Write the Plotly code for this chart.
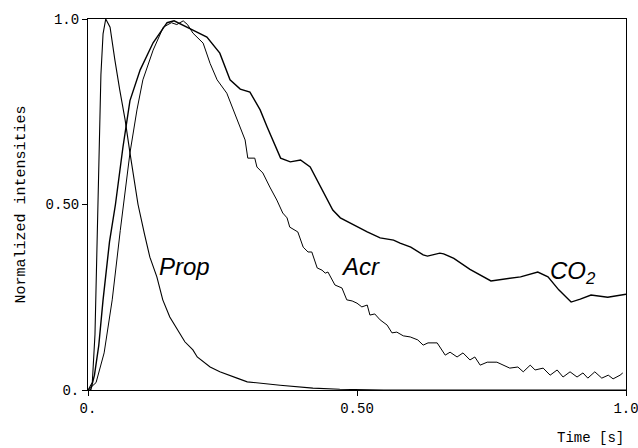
import plotly.graph_objects as go

# ---- data ----
prop_t = [0.0, 0.008, 0.013, 0.017, 0.020, 0.024, 0.028, 0.033, 0.041, 0.046, 0.050, 0.059,
          0.069, 0.078, 0.093, 0.105, 0.115, 0.128, 0.139, 0.152, 0.165, 0.180, 0.195, 0.203,
          0.227, 0.245, 0.277, 0.296, 0.357, 0.418, 0.468, 0.550, 0.700, 0.850, 1.0]
prop_v = [0.0, 0.02, 0.15, 0.40, 0.65, 0.85, 0.96, 1.0, 0.978, 0.935, 0.889, 0.809,
          0.728, 0.639, 0.50, 0.42, 0.358, 0.305, 0.243, 0.197, 0.165, 0.13, 0.108, 0.089,
          0.062, 0.049, 0.032, 0.022, 0.013, 0.005, 0.002, 0.0, 0.0, 0.0, 0.0]

acr_t = [0.0, 0.015, 0.030, 0.045, 0.060, 0.078, 0.091, 0.102, 0.121, 0.140, 0.155, 0.165,
         0.177, 0.185, 0.195, 0.214, 0.227, 0.240, 0.258, 0.270, 0.283, 0.292, 0.297, 0.310,
         0.314, 0.325, 0.338, 0.351, 0.362, 0.370, 0.375, 0.390, 0.400, 0.409, 0.416, 0.426,
         0.435, 0.441, 0.446, 0.459, 0.472, 0.481, 0.491, 0.500, 0.509, 0.519, 0.524, 0.533,
         0.543, 0.556, 0.565, 0.574, 0.586, 0.599, 0.613, 0.623, 0.632, 0.649, 0.664, 0.673,
         0.686, 0.697, 0.710, 0.719, 0.729, 0.742, 0.760, 0.771, 0.784, 0.799, 0.809, 0.822,
         0.831, 0.846, 0.859, 0.872, 0.883, 0.896, 0.909, 0.920, 0.929, 0.942, 0.955, 0.967,
         0.976, 0.989, 0.994]
acr_v = [0.0, 0.02, 0.10, 0.243, 0.43, 0.639, 0.755, 0.836, 0.916, 0.978, 0.99, 0.985,
         0.995, 0.985, 0.962, 0.935, 0.88, 0.836, 0.80, 0.755, 0.709, 0.674, 0.625, 0.625,
         0.601, 0.585, 0.547, 0.512, 0.477, 0.464, 0.439, 0.426, 0.385, 0.372, 0.372, 0.329,
         0.323, 0.315, 0.318, 0.283, 0.275, 0.243, 0.240, 0.234, 0.224, 0.229, 0.202, 0.205,
         0.189, 0.175, 0.154, 0.156, 0.146, 0.143, 0.135, 0.121, 0.127, 0.127, 0.094, 0.102,
         0.089, 0.100, 0.081, 0.089, 0.067, 0.075, 0.075, 0.067, 0.059, 0.062, 0.049, 0.067,
         0.054, 0.059, 0.040, 0.054, 0.035, 0.049, 0.035, 0.046, 0.032, 0.049, 0.032, 0.040,
         0.030, 0.040, 0.046]

co2_t = [0.0, 0.005, 0.012, 0.020, 0.028, 0.040, 0.051, 0.065, 0.078, 0.097, 0.121, 0.147,
         0.160, 0.175, 0.195, 0.221, 0.245, 0.264, 0.283, 0.301, 0.320, 0.333, 0.358, 0.376,
         0.395, 0.413, 0.438, 0.455, 0.469, 0.487, 0.519, 0.543, 0.568, 0.580, 0.600, 0.623,
         0.631, 0.654, 0.661, 0.680, 0.710, 0.749, 0.780, 0.804, 0.836, 0.855, 0.875, 0.898,
         0.915, 0.935, 0.966, 1.0]
co2_v = [0.0, 0.0, 0.04, 0.12, 0.243, 0.40, 0.50, 0.655, 0.78, 0.863, 0.936, 0.99,
         0.995, 0.985, 0.97, 0.951, 0.908, 0.836, 0.811, 0.803, 0.755, 0.709, 0.625, 0.615,
         0.62, 0.601, 0.531, 0.485, 0.464, 0.45, 0.426, 0.41, 0.404, 0.396, 0.385, 0.364,
         0.361, 0.369, 0.367, 0.355, 0.325, 0.294, 0.30, 0.305, 0.318, 0.305, 0.27, 0.237,
         0.245, 0.256, 0.25, 0.258]

tick_vals = [0, 0.5, 1.0]
tick_text = ["0.", "0.50", "1.0"]

MONO = "Liberation Mono, DejaVu Sans Mono, monospace"
SANS = "Liberation Sans, Arial, sans-serif"

fig = go.Figure()
fig.add_trace(go.Scatter(x=prop_t, y=prop_v, mode="lines", line=dict(color="black", width=1.1),
                         showlegend=False))
fig.add_trace(go.Scatter(x=acr_t, y=acr_v, mode="lines", line=dict(color="black", width=1.0),
                         showlegend=False))
fig.add_trace(go.Scatter(x=co2_t, y=co2_v, mode="lines", line=dict(color="black", width=1.4),
                         showlegend=False))

fig.update_layout(
    width=638, height=448,
    margin=dict(l=88, r=12, t=19, b=58, autoexpand=False),
    plot_bgcolor="white", paper_bgcolor="white",
    font=dict(family=MONO, size=14, color="black"),
)
fig.update_xaxes(range=[0, 1], tickvals=tick_vals, ticktext=tick_text, showgrid=False,
                 zeroline=False, showline=True, linecolor="black", linewidth=1, mirror=True,
                 ticks="outside", ticklen=5, tickcolor="black", ticklabeloverflow="allow",
                 automargin=False, tickfont=dict(family=MONO, size=14))
fig.update_yaxes(range=[0, 1], tickvals=tick_vals, ticktext=tick_text, showgrid=False,
                 zeroline=False, showline=True, linecolor="black", linewidth=1, mirror=True,
                 ticks="outside", ticklen=5, tickcolor="black", ticklabeloverflow="allow",
                 automargin=False, tickfont=dict(family=MONO, size=14))

fig.add_annotation(text="Normalized intensities", xref="paper", yref="paper",
                   x=-0.1227, y=0.5, xanchor="center", yanchor="middle", textangle=-90,
                   showarrow=False, font=dict(family=MONO, size=15))
fig.add_annotation(text="Time [s]", xref="paper", yref="paper",
                   x=1.0, y=-0.129, xanchor="right", yanchor="middle",
                   showarrow=False, font=dict(family=MONO, size=14))

fig.add_annotation(text="<i>Prop</i>", x=0.180, y=0.332, xref="x", yref="y",
                   showarrow=False, font=dict(family=SANS, size=24))
fig.add_annotation(text="<i>Acr</i>", x=0.507, y=0.332, xref="x", yref="y",
                   showarrow=False, font=dict(family=SANS, size=24))
fig.add_annotation(text="<i>CO<sub>2</sub></i>", x=0.855, y=0.318, xref="x", yref="y",
                   xanchor="left", showarrow=False, font=dict(family=SANS, size=24))

fig.write_html("out.html")
